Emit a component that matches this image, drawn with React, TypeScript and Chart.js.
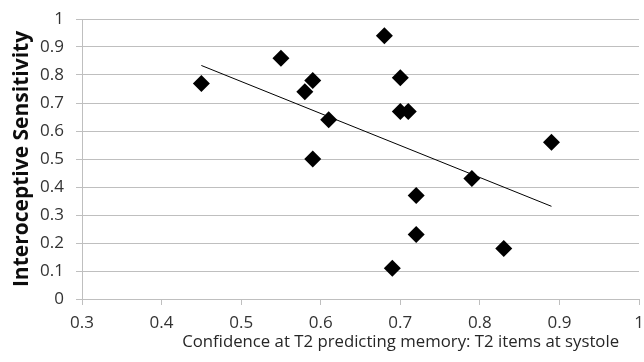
import React, { useEffect, useRef } from "react";
import { Chart, registerables } from "chart.js";

Chart.register(...registerables);

const confidenceX = [0.45, 0.55, 0.58, 0.59, 0.59, 0.61, 0.68, 0.70, 0.70, 0.71, 0.72, 0.72, 0.69, 0.79, 0.83, 0.89];
const sensitivityY = [0.77, 0.86, 0.74, 0.78, 0.50, 0.64, 0.94, 0.79, 0.67, 0.67, 0.37, 0.23, 0.11, 0.43, 0.18, 0.56];
const trendX = [0.45, 0.89];
const trendY = [0.834, 0.331];
const xTitle = "Confidence at T2 predicting memory: T2 items at systole";
const yTitle = "Interoceptive Sensitivity";

const font = "'Open Sans', sans-serif";

const titlesPlugin = {
  id: "axisTitles",
  afterDraw(chart: any) {
    const ctx = chart.ctx;
    const a = chart.chartArea;
    ctx.save();
    ctx.fillStyle = "#262626";
    ctx.font = `16.75px ${font}`;
    ctx.textAlign = "center";
    ctx.textBaseline = "alphabetic";
    ctx.fillText(xTitle, a.left + (a.right - a.left) * 0.572, 347);
    ctx.restore();
    ctx.save();
    ctx.translate(28, (a.top + a.bottom) / 2);
    ctx.rotate(-Math.PI / 2);
    ctx.fillStyle = "#0d0d0d";
    ctx.font = `bold 21px ${font}`;
    ctx.textAlign = "center";
    ctx.textBaseline = "alphabetic";
    ctx.fillText(yTitle, 0, 0);
    ctx.restore();
  },
};

export default function App() {
  const ref = useRef<HTMLCanvasElement | null>(null);
  useEffect(() => {
    if (!ref.current) return;
    const chart = new Chart(ref.current, {
      type: "scatter",
      data: {
        datasets: [
          {
            label: "points",
            data: confidenceX.map((x, i) => ({ x, y: sensitivityY[i] })),
            pointStyle: "rectRot",
            pointRadius: 8.5,
            pointBackgroundColor: "#000",
            pointBorderColor: "#000",
            pointBorderWidth: 0,
          },
          {
            type: "line",
            label: "trend",
            data: trendX.map((x, i) => ({ x, y: trendY[i] })),
            borderColor: "#000",
            borderWidth: 1,
            pointRadius: 0,
            showLine: true,
            fill: false,
          },
        ],
      },
      options: {
        animation: false,
        responsive: false,
        maintainAspectRatio: false,
        layout: { autoPadding: false, padding: { top: 19, right: 5, left: 0, bottom: 0 } },
        plugins: { legend: { display: false }, tooltip: { enabled: false } },
        scales: {
          x: {
            type: "linear",
            min: 0.3,
            max: 1,
            ticks: {
              stepSize: 0.1,
              color: "#333",
              font: { family: font, size: 17 },
              padding: 8,
              callback: (v: any) => String(Math.round(Number(v) * 10) / 10),
            },
            grid: { drawOnChartArea: false, color: "#bfbfbf", tickLength: 6, lineWidth: 1 },
            border: { color: "#bfbfbf", width: 1 },
            afterFit: (s: any) => {
              s.height = 63;
              s.paddingLeft = 0;
              s.paddingRight = 0;
            },
          },
          y: {
            type: "linear",
            min: 0,
            max: 1,
            ticks: {
              stepSize: 0.1,
              color: "#333",
              font: { family: font, size: 17 },
              padding: 12,
              callback: (v: any) => String(Math.round(Number(v) * 10) / 10),
            },
            grid: { color: "#bfbfbf", tickLength: 6, lineWidth: 1 },
            border: { color: "#bfbfbf", width: 1 },
            afterFit: (s: any) => {
              s.width = 82;
              s.paddingTop = 0;
              s.paddingBottom = 0;
            },
          },
        },
      },
      plugins: [titlesPlugin],
    });
    return () => chart.destroy();
  }, []);
  return (
    <div style={{ position: "fixed", left: 0, top: 0, width: 644, height: 362, background: "#fff" }}>
      <canvas ref={ref} width={644} height={362} style={{ width: 644, height: 362 }} />
    </div>
  );
}
